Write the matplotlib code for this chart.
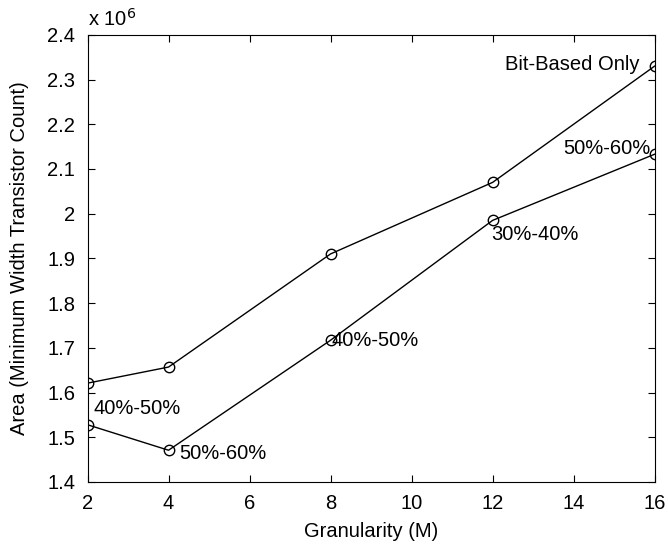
import matplotlib
matplotlib.use("Agg")
import matplotlib.pyplot as plt

plt.rcParams["font.family"] = ["Liberation Sans", "DejaVu Sans"]

granularity = [2, 4, 8, 12, 16]
bit_based = [1.621, 1.657, 1.910, 2.070, 2.330]   # x 10^6
mixed = [1.528, 1.471, 1.717, 1.985, 2.133]       # x 10^6
mixed_labels = ["40%-50%", "50%-60%", "40%-50%", "30%-40%", "50%-60%"]

FS = 14.5

fig = plt.figure(figsize=(6.68, 5.44), dpi=100)
ax = fig.add_axes([0.131, 0.114, 0.849, 0.822])

style = dict(color="black", linewidth=1.0, marker="o", markersize=7.5,
             markerfacecolor="none", markeredgecolor="black", markeredgewidth=1.0)
ax.plot(granularity, bit_based, **style)
ax.plot(granularity, mixed, **style)

ax.annotate("Bit-Based Only", (granularity[-1], bit_based[-1]), xytext=(-11, 1),
            textcoords="offset points", ha="right", va="center", fontsize=FS)

# label placement around each point of the lower curve
offsets = [((4, 5), "left", "bottom"),
           ((8, -2), "left", "center"),
           ((1, 0), "left", "center"),
           ((-1, -3), "left", "top"),
           ((-3, 4), "right", "center")]
for x, y, lab, (off, ha, va) in zip(granularity, mixed, mixed_labels, offsets):
    ax.annotate(lab, (x, y), xytext=off, textcoords="offset points",
                ha=ha, va=va, fontsize=FS)

ax.set_xlim(2, 16)
ax.set_ylim(1.4, 2.4)
ax.set_xticks(range(2, 17, 2))
ax.set_yticks([1.4, 1.5, 1.6, 1.7, 1.8, 1.9, 2.0, 2.1, 2.2, 2.3, 2.4])
ax.set_yticklabels(["1.4", "1.5", "1.6", "1.7", "1.8", "1.9", "2", "2.1", "2.2", "2.3", "2.4"])
ax.tick_params(direction="in", top=True, right=True, labelsize=FS, length=5, pad=9)
ax.set_xlabel("Granularity (M)", fontsize=FS, labelpad=6)
ax.set_ylabel("Area (Minimum Width Transistor Count)", fontsize=FS, labelpad=13)
ax.text(0.0, 1.012, r"x 10$^6$", transform=ax.transAxes, ha="left", va="bottom", fontsize=FS)

fig.savefig("out.png", dpi=100)
